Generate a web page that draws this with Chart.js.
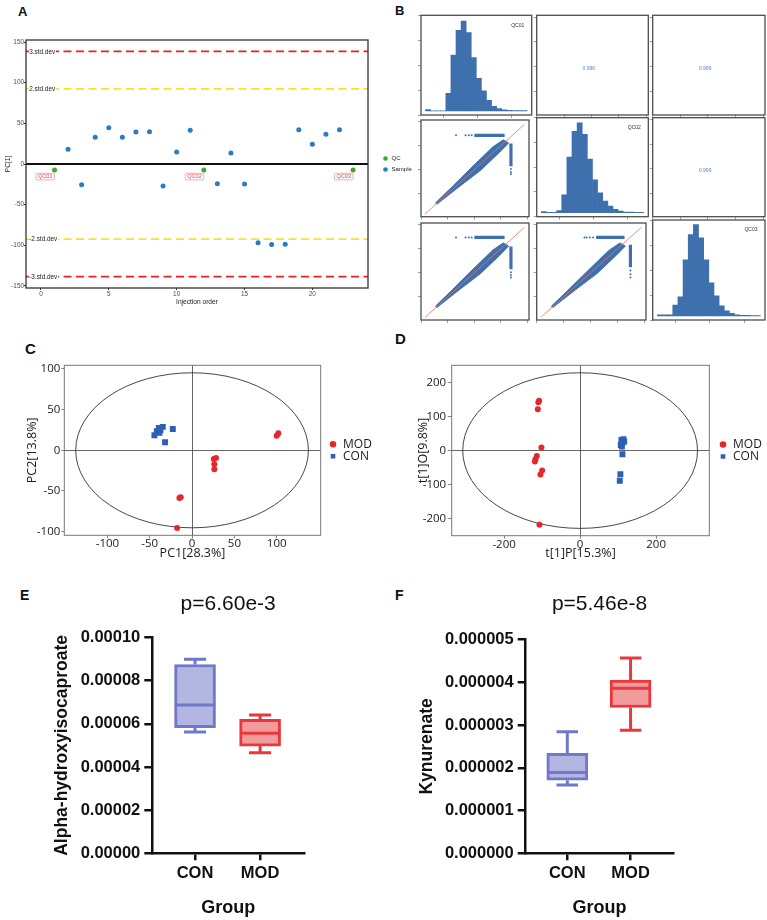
<!DOCTYPE html>
<html>
<head>
<meta charset="utf-8">
<title>QC and multivariate analysis figure</title>
<script src="https://cdn.jsdelivr.net/npm/chart.js@4.4.1/dist/chart.umd.min.js"></script>
<style>
  html, body { margin:0; padding:0; background:#ffffff; }
  body { position:relative; width:767px; height:920px; overflow:hidden; font-family:"Liberation Sans", Arial, sans-serif; }
  canvas { position:absolute; }
  .plab { position:absolute; font-weight:bold; line-height:1; color:#111; font-family:"Liberation Sans", Arial, sans-serif; }
</style>
</head>
<body>
<div class="plab" style="left:18px;top:5px;font-size:13px">A</div>
<div class="plab" style="left:395px;top:4px;font-size:13px">B</div>
<div class="plab" style="left:25px;top:341px;font-size:15px">C</div>
<div class="plab" style="left:395px;top:331px;font-size:15px">D</div>
<div class="plab" style="left:20px;top:588px;font-size:14px">E</div>
<div class="plab" style="left:395px;top:588px;font-size:14px">F</div>
<script>
// ================= DATA =================
// Panel A : PC[1] by injection order
const sampleOrder = [2,3,4,5,6,7,8,9,10,11,13,14,15,16,17,18,19,20,21,22];
const samplePC1   = [18,-25.5,32.8,44.6,32.8,39.4,39.7,-27,14.8,41.4,-24.2,13.5,-24.6,-97,-99,-98.8,42.2,24.2,36.5,42.2];
const qcOrder = [1,12,23];
const qcPC1   = [-7.4,-7.4,-7.4];
const qcNames = ['QC01','QC02','QC03'];
const sdLevels = [138.5, 92.5, -92.5, -138.5];
const sdLabels = ['3.std.dev','2.std.dev','-2.std.dev','-3.std.dev'];
const aTicksX = [0,5,10,15,20];
const aTicksY = [-150,-100,-50,0,50,100,150];

// Panel B : QC pair plot
const histBins  = [0.55,0.70,0.85,1.00,1.15,1.30,1.45,1.60,1.75,1.90,2.05,2.20,2.35,2.50,2.65,2.80,2.95,3.10,3.25,3.40];
const histQC01  = [24,0,2,3,327,1036,1493,1665,1449,986,605,370,198,87,43,19,13,6,6,6];
const histQC02  = [19,6,6,37,333,1036,1517,1676,1462,999,611,370,215,122,61,30,13,9,6,6];
const histQC03  = [19,19,19,200,352,1036,1499,1684,1443,1036,611,370,185,93,46,22,13,9,6,6];
const corrLabels = ['0.996','0.996','0.996'];
const bandX = [0.55,1.2,2.0,2.7,3.1,3.3,2.95,2.25,1.4,0.6,0.55];
const bandY = [0.62,1.32,2.2,2.95,3.25,3.12,2.72,1.98,1.26,0.56,0.62];
const idLineX = [0.15,3.89];
const idLineY = [0.15,3.89];
const streakHy      = [3.44,3.48,3.48];
const streakHdense  = [[2.01,3.15],[2.01,3.15],[2.21,3.27]];
const streakHsparse = [[1.32,1.68,1.80,1.91],[1.32,1.68,1.80,1.91],[1.78,1.86,1.98,2.10]];
const streakVx      = [3.39,3.39,3.49];
const streakVdense  = [[2.15,3.10],[2.15,3.10],[2.24,3.17]];
const streakVsparse = [[2.03,1.91,1.82],[2.03,1.91,1.81],[2.10,1.95,1.81]];

// Panel C : PCA scores
const cModX = [100,101.9,25.6,28.3,26.3,26.3,-13.4,-15,-17.7];
const cModY = [18,21,-10.6,-9.4,-17.2,-23.3,-57.8,-58.5,-95.5];
const cConX = [-34.6,-39.3,-41.7,-38.5,-44.5,-22.8,-31.9,-37.4];
const cConY = [28.8,27.5,23.4,21.4,18.5,26.3,9.9,25];
const cEllipse = [137.5,95.3];
const cTicksX = [-100,-50,0,50,100];
const cTicksY = [-100,-50,0,50,100];

// Panel D : OPLS-DA scores
const dModX = [-110,-108,-111.4,-101.8,-114,-117.6,-119,-100,-104.4,-107];
const dModY = [142,147,121.6,8.9,-15.6,-25.4,-32,-58.7,-70.6,-218.5];
const dConX = [114,108.8,112,116,107,110,111.4,106,104.4];
const dConY = [33.3,31.4,23.5,26.5,16.7,11.8,-10.8,-69.6,-89];
const dEllipse = [309,229];
const dTicksX = [-200,0,200];
const dTicksY = [-200,-100,0,100,200];

// Panels E, F : box plots
const groups = ['CON','MOD'];
const eMin = [5.62e-5,4.66e-5], eQ1 = [5.82e-5,4.97e-5], eMed = [6.87e-5,5.56e-5], eQ3 = [8.75e-5,6.21e-5], eMax = [8.99e-5,6.41e-5];
const fMin = [1.60e-6,2.88e-6], fQ1 = [1.71e-6,3.41e-6], fMed = [1.89e-6,3.86e-6], fQ3 = [2.34e-6,4.05e-6], fMax = [2.84e-6,4.57e-6];
const eTicksY = [0,2e-5,4e-5,6e-5,8e-5,1e-4];
const fTicksY = [0,1e-6,2e-6,3e-6,4e-6,5e-6];

// ================= HELPERS =================
Chart.defaults.animation = false;
Chart.defaults.font.family = '"Liberation Sans", Arial, sans-serif';
Chart.defaults.color = '#222';
Chart.defaults.plugins.legend.display = false;
Chart.defaults.plugins.tooltip.enabled = false;

const pts = (xs, ys) => xs.map((x, i) => ({x: x, y: ys[i]}));
const setTicks = vals => s => { s.ticks = vals.map(v => ({value: v})); };

function mkCanvas(l, t, w, h) {
  const c = document.createElement('canvas');
  c.width = w; c.height = h;
  c.style.left = l + 'px'; c.style.top = t + 'px';
  c.style.width = w + 'px'; c.style.height = h + 'px';
  document.body.appendChild(c);
  return c;
}

function framePlugin(color, width) {
  return { id: 'frame', afterDatasetsDraw(chart) {
    const {ctx, chartArea: a} = chart;
    ctx.save(); ctx.strokeStyle = color; ctx.lineWidth = width;
    ctx.strokeRect(a.left, a.top, a.right - a.left, a.bottom - a.top);
    ctx.restore();
  }};
}

function ellipsePlugin(radii) {
  return { id: 'ellipse', beforeDatasetsDraw(chart) {
    const {ctx, scales: {x, y}} = chart;
    const cx = x.getPixelForValue(0), cy = y.getPixelForValue(0);
    const rx = Math.abs(x.getPixelForValue(radii[0]) - cx), ry = Math.abs(y.getPixelForValue(radii[1]) - cy);
    ctx.save(); ctx.beginPath(); ctx.ellipse(cx, cy, rx, ry, 0, 0, Math.PI * 2);
    ctx.strokeStyle = '#333'; ctx.lineWidth = 0.9; ctx.stroke(); ctx.restore();
  }};
}

function cellTextPlugin(text, where) {
  return { id: 'cellText', afterDatasetsDraw(chart) {
    const {ctx, chartArea: a} = chart;
    ctx.save();
    ctx.font = '5px "Liberation Sans", Arial, sans-serif';
    ctx.textAlign = 'center'; ctx.textBaseline = 'middle';
    if (where === 'corner') { ctx.fillStyle = '#333'; ctx.fillText(text, a.right - 14, a.top + 10); }
    else { ctx.fillStyle = '#5a86bd'; ctx.fillText(text, (a.left + a.right) / 2 - 3.7, (a.top + a.bottom) / 2 + 3.8); }
    ctx.restore();
  }};
}

// ================= PANEL A =================
const aNotes = { id: 'aNotes', afterDatasetsDraw(chart) {
  const {ctx, chartArea: a, scales: {x, y}} = chart;
  ctx.save();
  ctx.font = '6.4px "Liberation Sans", Arial, sans-serif';
  ctx.textBaseline = 'middle'; ctx.textAlign = 'left';
  sdLevels.forEach((v, i) => {
    const py = y.getPixelForValue(v);
    const w = ctx.measureText(sdLabels[i]).width;
    ctx.fillStyle = '#ffffff'; ctx.fillRect(a.left + 3, py - 3.6, w + 1, 7.2);
    ctx.fillStyle = '#1a1a1a'; ctx.fillText(sdLabels[i], a.left + 3.2, py + 0.4);
  });
  ctx.font = '5.6px "Liberation Sans", Arial, sans-serif';
  qcOrder.forEach((o, i) => {
    const px = x.getPixelForValue(o), py = y.getPixelForValue(qcPC1[i]);
    const w = ctx.measureText(qcNames[i]).width + 4, h = 6.6;
    const cx = px - 9.3, top = py + 3.3;
    ctx.strokeStyle = '#e37a7a'; ctx.lineWidth = 0.6;
    ctx.beginPath(); ctx.moveTo(px, py + 2.4); ctx.lineTo(cx + w / 2 - 1, top); ctx.stroke();
    ctx.fillStyle = '#ffffff'; ctx.beginPath(); ctx.roundRect(cx - w / 2, top, w, h, 1.2); ctx.fill(); ctx.stroke();
    ctx.fillStyle = '#e04545'; ctx.textAlign = 'center'; ctx.fillText(qcNames[i], cx, top + h / 2 + 0.3);
  });
  ctx.restore();
}};

{
  const sdColors = ['#e8231f', '#f2e627', '#f2e627', '#e8231f'];
  const c = mkCanvas(0, 30, 416, 280);
  new Chart(c, {
    type: 'scatter',
    data: { datasets: [
      {label: 'QC', data: pts(qcOrder, qcPC1), backgroundColor: '#3aaa35', borderColor: '#3aaa35', borderWidth: 0, pointRadius: 2.5, pointStyle: 'circle'},
      {label: 'Sample', data: pts(sampleOrder, samplePC1), backgroundColor: '#2b7bc3', borderColor: '#2b7bc3', borderWidth: 0, pointRadius: 2.5, pointStyle: 'circle'},
      {type: 'line', data: [{x: -1.1, y: 0}, {x: 24.1, y: 0}], borderColor: '#111', borderWidth: 1.8, pointRadius: 0},
      ...sdLevels.map((v, i) => ({type: 'line', data: [{x: -1.1, y: v}, {x: 24.1, y: v}], borderColor: sdColors[i], borderWidth: 1.8, borderDash: [8, 4.5], pointRadius: 0}))
    ]},
    options: {
      responsive: false, animation: false,
      layout: {padding: {top: 10, left: 0, right: 0, bottom: 0}},
      scales: {
        x: {type: 'linear', min: -1.1, max: 24.1, afterBuildTicks: setTicks(aTicksX),
            ticks: {font: {size: 6.4}, color: '#4d4d4d', padding: 0.4},
            grid: {drawOnChartArea: false, tickLength: 2, color: '#333'}, border: {display: false},
            title: {display: true, text: 'Injection order', font: {size: 6.6}, color: '#222', padding: {top: 0, bottom: 3.7}},
            afterFit: s => { s.height = 22; }},
        y: {min: -152.5, max: 152.5, afterBuildTicks: setTicks(aTicksY),
            ticks: {font: {size: 6.4}, color: '#4d4d4d', padding: 0},
            grid: {drawOnChartArea: false, tickLength: 2, color: '#333'}, border: {display: false},
            title: {display: true, text: 'PC[1]', font: {size: 6.6}, color: '#222', padding: {top: 4.1, bottom: 0}},
            afterFit: s => { s.width = 26; }},
        y2: {position: 'right', display: true, ticks: {display: false}, grid: {display: false}, border: {display: false}, afterFit: s => { s.width = 9.5; }}
      },
      plugins: {
        legend: {display: true, position: 'right', fullSize: false, maxWidth: 38.5,
          labels: {usePointStyle: true, boxWidth: 6, boxHeight: 3.3, padding: 5, font: {size: 6}, color: '#222', filter: it => !!it.text}}
      }
    },
    plugins: [framePlugin('#333', 1.3), aNotes]
  });
}

// ================= PANEL B =================
const bCols = [[421, 531.7], [536.7, 648.3], [652.7, 765]];
const bRows = [[15.3, 115], [117.7, 216.7], [220, 320]];
function cellGeom(ci, ri) {
  const pl = bCols[ci][0], pr = bCols[ci][1], pt = bRows[ri][0], pb = bRows[ri][1];
  const cl = Math.floor(pl) - 5, ct = Math.floor(pt) - 1;
  const cw = Math.ceil(pr) + 1 - cl, ch = Math.ceil(pb) + 5 - ct;
  return {cl, ct, cw, ch, padTop: pt - ct, padRight: cw - (pr - cl), yW: pl - cl, xH: ch - (pb - ct)};
}
const tickGrid = {drawOnChartArea: false, tickLength: 3, color: '#888', lineWidth: 0.8};
const bBlue = '#3f70ae';

function histCell(ci, ri, counts, name) {
  const g = cellGeom(ci, ri);
  new Chart(mkCanvas(g.cl, g.ct, g.cw, g.ch), {
    type: 'bar',
    data: {datasets: [{data: pts(histBins, counts), backgroundColor: bBlue, borderWidth: 0, categoryPercentage: 1, barPercentage: 1}]},
    options: {responsive: false, animation: false,
      layout: {padding: {top: g.padTop, right: g.padRight, left: 0, bottom: 0}},
      scales: {
        x: {type: 'linear', min: 0.341, max: 3.611, offset: false, ticks: {display: false, stepSize: 1, includeBounds: false},
            grid: Object.assign({offset: false}, tickGrid), border: {display: false}, afterFit: s => { s.height = g.xH; }},
        y: {min: -75, max: 1770, ticks: {display: false, stepSize: 500, includeBounds: false},
            grid: tickGrid, border: {display: false}, afterFit: s => { s.width = g.yW; }}
      }},
    plugins: [framePlugin('#4d4d4d', 1.3), cellTextPlugin(name, 'corner')]
  });
}

function cellScales(g) {
  return {
    x: {type: 'linear', min: 0, max: 4.07, ticks: {display: false, stepSize: 1, includeBounds: false},
        grid: tickGrid, border: {display: false}, afterFit: s => { s.height = g.xH; }},
    y: {type: 'linear', min: 0.04, max: 4.08, ticks: {display: false, stepSize: 1, includeBounds: false},
        grid: tickGrid, border: {display: false}, afterFit: s => { s.width = g.yW; }}
  };
}

function scatterCell(ci, ri, k) {
  const g = cellGeom(ci, ri);
  const sparse = streakHsparse[k].map(x => ({x: x, y: streakHy[k]}))
    .concat(streakVsparse[k].map(y => ({x: streakVx[k], y: y})));
  new Chart(mkCanvas(g.cl, g.ct, g.cw, g.ch), {
    type: 'scatter',
    data: {datasets: [
      {type: 'line', data: pts(idLineX, idLineY), borderColor: '#e8745f', borderWidth: 0.8, pointRadius: 0},
      {type: 'line', data: [
        {x: streakHdense[k][0], y: streakHy[k]}, {x: streakHdense[k][1], y: streakHy[k]}, {x: streakVx[k], y: null},
        {x: streakVx[k], y: streakVdense[k][0]}, {x: streakVx[k], y: streakVdense[k][1]}],
        borderColor: bBlue, borderWidth: 3.2, pointRadius: 0, spanGaps: false},
      {data: sparse, backgroundColor: bBlue, borderWidth: 0, pointRadius: 1},
      {type: 'line', data: pts(bandX, bandY), borderColor: bBlue, borderWidth: 1, backgroundColor: bBlue, fill: 'shape', pointRadius: 0}
    ]},
    options: {responsive: false, animation: false,
      layout: {padding: {top: g.padTop, right: g.padRight, left: 0, bottom: 0}},
      scales: cellScales(g)},
    plugins: [framePlugin('#4d4d4d', 1.3)]
  });
}

function corrCell(ci, ri, text) {
  const g = cellGeom(ci, ri);
  new Chart(mkCanvas(g.cl, g.ct, g.cw, g.ch), {
    type: 'scatter',
    data: {datasets: []},
    options: {responsive: false, animation: false,
      layout: {padding: {top: g.padTop, right: g.padRight, left: 0, bottom: 0}},
      scales: cellScales(g)},
    plugins: [framePlugin('#4d4d4d', 1.3), cellTextPlugin(text, 'center')]
  });
}

histCell(0, 0, histQC01, qcNames[0]);
corrCell(1, 0, corrLabels[0]);
corrCell(2, 0, corrLabels[1]);
scatterCell(0, 1, 0);
histCell(1, 1, histQC02, qcNames[1]);
corrCell(2, 1, corrLabels[2]);
scatterCell(0, 2, 1);
scatterCell(1, 2, 2);
histCell(2, 2, histQC03, qcNames[2]);

// ================= PANELS C, D =================
function scoreChart(opt) {
  const os = '"Open Sans", "Liberation Sans", sans-serif';
  new Chart(mkCanvas(opt.left, 355, opt.width, 210), {
    type: 'scatter',
    data: {datasets: [
      {label: 'MOD', data: pts(opt.modX, opt.modY), backgroundColor: '#e5262b', borderColor: '#e5262b', borderWidth: 0, pointRadius: 3, pointStyle: 'circle'},
      {label: 'CON', data: pts(opt.conX, opt.conY), backgroundColor: '#2a61b6', borderColor: '#2a61b6', borderWidth: 0, pointRadius: 4.2, pointStyle: 'rect'}
    ]},
    options: {responsive: false, animation: false,
      layout: {padding: {top: 10.3, left: 0, right: 0, bottom: 0}},
      scales: {
        x: {type: 'linear', min: opt.xr[0], max: opt.xr[1], afterBuildTicks: setTicks(opt.ticksX),
            ticks: {font: {family: os, size: 11.5, lineHeight: 1}, color: '#1a1a1a', padding: 0},
            grid: {color: c => (c.tick && c.tick.value === 0) ? '#555' : 'rgba(0,0,0,0)', tickColor: '#777', tickLength: 3, lineWidth: 0.9},
            border: {display: false},
            title: {display: true, text: opt.xTitle, font: {family: os, size: 12.5}, color: '#1a1a1a', padding: {top: 0, bottom: 4.2}},
            afterFit: s => { s.height = opt.xH; }},
        y: {min: opt.yr[0], max: opt.yr[1], afterBuildTicks: setTicks(opt.ticksY),
            ticks: {font: {family: os, size: 11.5}, color: '#1a1a1a', padding: opt.yPad},
            grid: {color: c => (c.tick && c.tick.value === 0) ? '#555' : 'rgba(0,0,0,0)', tickColor: '#777', tickLength: opt.yTick, lineWidth: 0.9},
            border: {display: false},
            title: {display: true, text: opt.yTitle, font: {family: os, size: 12.5}, color: '#1a1a1a', padding: {top: opt.yTitlePad, bottom: 0}},
            afterFit: s => { s.width = opt.yW; }},
        y2: {position: 'right', display: true, ticks: {display: false}, grid: {display: false}, border: {display: false}, afterFit: s => { s.width = opt.gap; }}
      },
      plugins: {legend: {display: true, position: 'right', fullSize: false, maxWidth: 48,
        labels: {usePointStyle: true, boxWidth: 8, boxHeight: 4.6, padding: 0, font: {family: os, size: 12}, color: '#1a1a1a'}}}
    },
    plugins: [framePlugin('#777', 1), ellipsePlugin(opt.ell)]
  });
}

scoreChart({left: 0, width: 377, modX: cModX, modY: cModY, conX: cConX, conY: cConY, ell: cEllipse,
  xr: [-151, 152], ticksX: cTicksX, yr: [-104.5, 104.5], ticksY: cTicksY,
  xTitle: 'PC1[28.3%]', yTitle: 'PC2[13.8%]', xH: 29.7, yW: 64.3, yTick: 3, yPad: 1, yTitlePad: 24.5, gap: 8.3});
scoreChart({left: 400, width: 367, modX: dModX, modY: dModY, conX: dConX, conY: dConY, ell: dEllipse,
  xr: [-338, 340], ticksX: dTicksX, yr: [-250.5, 251], ticksY: dTicksY,
  xTitle: 't[1]P[15.3%]', yTitle: 't[1]O[9.8%]', xH: 29.3, yW: 51.7, yTick: 4, yPad: 1.5, yTitlePad: 15.8, gap: 9.7});

// ================= PANELS E, F =================
const boxLine = ['#6f78c9', '#e8383d'];
const boxFill = ['#b3b6e0', '#f29b9d'];
function boxLines(x, lo, q1, med, q3, hi) {
  const cap = 0.17, half = 0.31;
  return [
    {x: x - cap, y: hi}, {x: x + cap, y: hi}, {x: x, y: null},
    {x: x, y: hi}, {x: x, y: q3}, {x: x, y: null},
    {x: x, y: q1}, {x: x, y: lo}, {x: x, y: null},
    {x: x - cap, y: lo}, {x: x + cap, y: lo}, {x: x, y: null},
    {x: x - half, y: med}, {x: x + half, y: med}
  ];
}
function boxChart(opt) {
  new Chart(mkCanvas(opt.left, 580, opt.width, 340), {
    type: 'bar',
    data: {datasets: [
      ...groups.map((g, i) => ({type: 'line', data: boxLines(i + 1, opt.mn[i], opt.q1[i], opt.md[i], opt.q3[i], opt.mx[i]),
        borderColor: boxLine[i], borderWidth: 3, pointRadius: 0, spanGaps: false, fill: false})),
      {type: 'bar', data: groups.map((g, i) => ({x: i + 1, y: [opt.q1[i], opt.q3[i]]})),
        backgroundColor: boxFill, borderColor: boxLine, borderWidth: 3, borderSkipped: false, barThickness: 41}
    ]},
    options: {responsive: false, animation: false,
      layout: {padding: {top: 0, right: opt.padR, left: 0, bottom: 0}},
      scales: {
        x: {type: 'linear', min: 0.343, max: 2.675, offset: false,
            afterBuildTicks: s => { s.ticks = groups.map((g, i) => ({value: i + 1})); },
            ticks: {callback: (v, i) => groups[i], font: {size: 16.5, weight: 'bold'}, color: '#111', padding: 3},
            grid: {drawOnChartArea: false, tickLength: 7, lineWidth: 2.5, color: '#111', offset: false},
            border: {color: '#111', width: 2.5},
            title: {display: true, text: 'Group', font: {size: 18, weight: 'bold'}, color: '#111', padding: {top: 0, bottom: 0.9}},
            afterFit: s => { s.height = 66.7; }},
        y: {min: opt.ticksY[0], max: opt.ticksY[opt.ticksY.length - 1],
            afterBuildTicks: setTicks(opt.ticksY),
            ticks: {callback: v => v.toFixed(opt.dec), font: {size: 16.5, weight: 'bold'}, color: '#111', padding: 4},
            grid: {drawOnChartArea: false, tickLength: 8, lineWidth: 2.5, color: '#111'},
            border: {color: '#111', width: 2.5},
            title: {display: true, text: opt.yTitle, font: {size: 17.5, weight: 'bold'}, color: '#111', padding: {top: opt.yTitlePad, bottom: 0}},
            afterFit: s => { s.width = opt.yW; }}
      },
      plugins: {title: {display: true, text: opt.title, fullSize: false, font: {size: 21, weight: 'normal'}, color: '#111',
        padding: {top: 11.4, bottom: opt.titleBottom}}}
    }
  });
}
boxChart({left: 0, width: 380, padR: 76, yW: 152.3, yTitlePad: 51.2, titleBottom: 20.9, dec: 5,
  mn: eMin, q1: eQ1, md: eMed, q3: eQ3, mx: eMax, ticksY: eTicksY, yTitle: 'Alpha-hydroxyisocaproate', title: 'p=6.60e-3'});
boxChart({left: 380, width: 387, padR: 93.7, yW: 145.7, yTitlePad: 36.2, titleBottom: 22.9, dec: 6,
  mn: fMin, q1: fQ1, md: fMed, q3: fQ3, mx: fMax, ticksY: fTicksY, yTitle: 'Kynurenate', title: 'p=5.46e-8'});
</script>
</body>
</html>
